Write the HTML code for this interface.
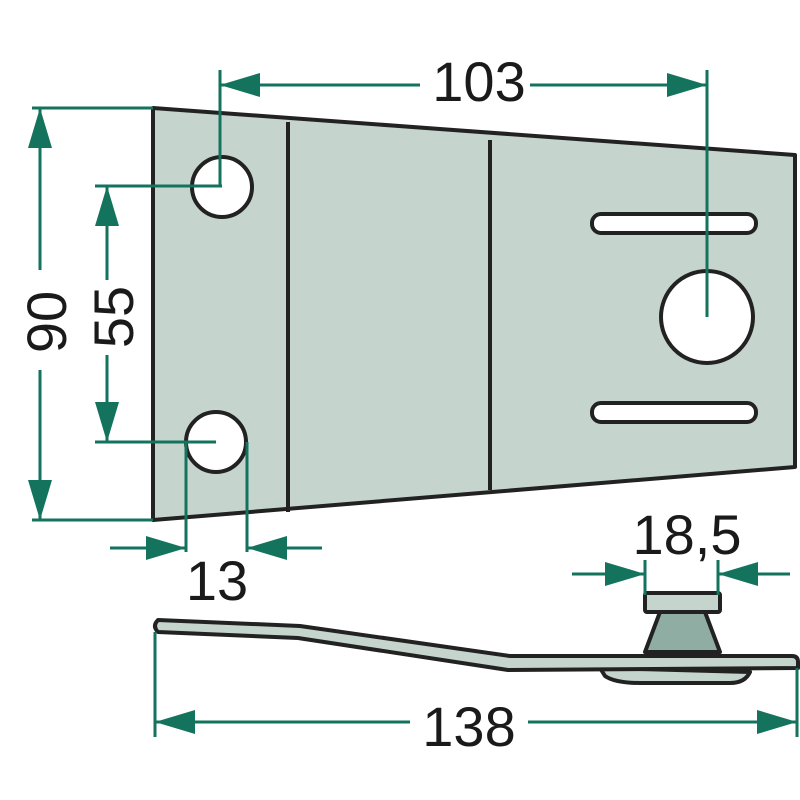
<!DOCTYPE html><html><head><style>body{margin:0;background:#fff}svg{display:block}</style></head><body>
<svg width="800" height="800" viewBox="0 0 800 800" xmlns="http://www.w3.org/2000/svg" font-family="Liberation Sans, sans-serif">
<defs>
<marker id="b" viewBox="0 0 40 24" refX="40" refY="12" markerWidth="40" markerHeight="24" orient="auto" markerUnits="userSpaceOnUse"><path d="M0,0L40,12L0,24z" fill="#13735c"/></marker></defs>
<g stroke="#222" stroke-width="4" fill="#c6d4ce" stroke-linejoin="round">
<path d="M153,108 L795,155 L795,467 L153,520 Z"/>
<line x1="288" y1="122" x2="288" y2="512"/><line x1="490" y1="140" x2="490" y2="490"/>
<ellipse cx="222" cy="187" rx="30" ry="30" fill="#fff"/>
<ellipse cx="216" cy="442" rx="30" ry="30" fill="#fff"/>
<circle cx="707" cy="317" r="46" fill="#fff"/>
<rect x="592" y="214" width="164" height="19" rx="9" fill="#fff"/>
<rect x="592" y="403" width="164" height="19" rx="9" fill="#fff"/>
<path d="M600,668 L605,676 Q615,683 640,683 L730,683 Q745,683 750,672 Z" fill="#c6d4ce"/>
<path d="M660,612 L645,652 L720,652 L705,612 Z" fill="#8fada3"/>
<rect x="645" y="593" width="75" height="19" rx="2" fill="#c6d4ce"/>
<path d="M158,620 L300,626 L510,656 L792,656 Q798,656 798,662 L798,668 L508,670 L298,638 L158,632 Q152,626 158,620 Z" fill="#c6d4ce"/>
</g>
<g stroke="#13735c" stroke-width="3" fill="none">
<line x1="220" y1="70" x2="220" y2="186"/><line x1="707" y1="70" x2="707" y2="317"/>
<line x1="530" y1="85" x2="707" y2="85" marker-end="url(#b)"/><line x1="420" y1="85" x2="220" y2="85" marker-end="url(#b)"/>
<line x1="32" y1="108" x2="153" y2="108"/><line x1="32" y1="520" x2="153" y2="520"/>
<line x1="40" y1="270" x2="40" y2="108" marker-end="url(#b)"/><line x1="40" y1="370" x2="40" y2="520" marker-end="url(#b)"/>
<line x1="95" y1="186" x2="222" y2="186"/><line x1="95" y1="442" x2="216" y2="442"/>
<line x1="107" y1="280" x2="107" y2="186" marker-end="url(#b)"/><line x1="107" y1="355" x2="107" y2="442" marker-end="url(#b)"/>
<line x1="186" y1="442" x2="186" y2="552"/><line x1="247" y1="442" x2="247" y2="552"/>
<line x1="110" y1="548" x2="186" y2="548" marker-end="url(#b)"/><line x1="322" y1="548" x2="247" y2="548" marker-end="url(#b)"/>
<line x1="645" y1="560" x2="645" y2="595"/><line x1="718" y1="560" x2="718" y2="595"/>
<line x1="572" y1="574" x2="645" y2="574" marker-end="url(#b)"/><line x1="790" y1="574" x2="718" y2="574" marker-end="url(#b)"/>
<line x1="155" y1="632" x2="155" y2="737"/><line x1="797" y1="668" x2="797" y2="737"/>
<line x1="410" y1="722" x2="155" y2="722" marker-end="url(#b)"/><line x1="528" y1="722" x2="797" y2="722" marker-end="url(#b)"/>
</g>
<g fill="#1a1a1a" font-size="56" text-anchor="middle">
<text x="479" y="101">103</text>
<text transform="translate(66,322) rotate(-90)">90</text>
<text transform="translate(133,317) rotate(-90)">55</text>
<text x="217" y="600">13</text>
<text x="687" y="554">18,5</text>
<text x="469" y="746">138</text>
</g>
</svg></body></html>
